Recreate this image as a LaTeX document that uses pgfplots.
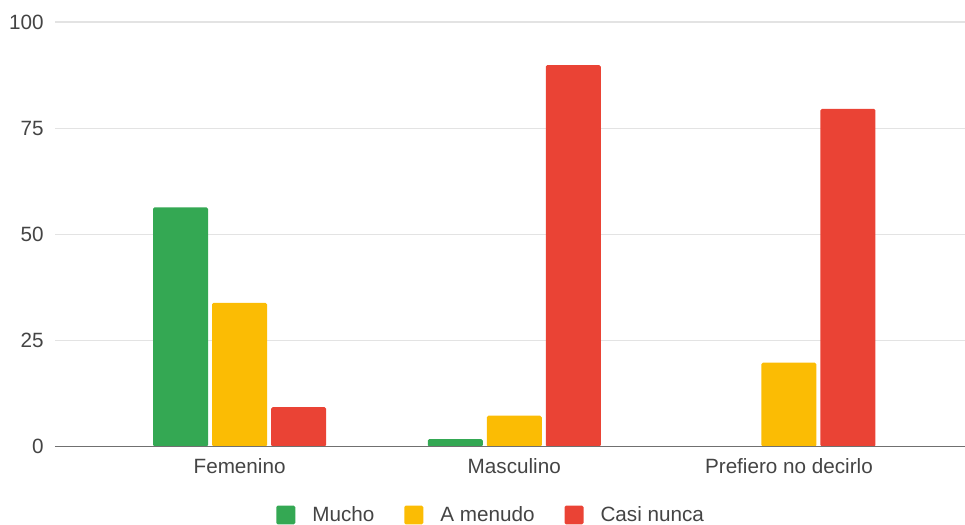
\documentclass[border=0pt]{standalone}
\usepackage{fontspec}
\setmainfont{Liberation Sans}
\usepackage{pgfplots}
\usepackage{pgfplotstable}
\pgfplotsset{compat=1.18}

\definecolor{gMucho}{HTML}{34A853}
\definecolor{gMenudo}{HTML}{FBBC04}
\definecolor{gNunca}{HTML}{EA4335}
\definecolor{gridgray}{HTML}{E3E3E3}
\definecolor{basegray}{HTML}{707070}
\definecolor{labelgray}{HTML}{444444}

% one row per group: 0 Femenino, 1 Masculino, 2 Prefiero no decirlo
\pgfplotstableread{
x  mucho  amenudo  casinunca
0  56.4   33.9     9.3
1  1.8    7.3      89.9
2  nan    19.8     79.6
}\datos

\pgfplotsset{
  squarelegend/.style={
    legend image code/.code={\fill[##1, draw=none] (0pt,-7.1pt) rectangle (14.25pt,7.1pt);}
  }
}

\begin{document}
\begin{tikzpicture}
\begin{axis}[
  name=ax,
  scale only axis,
  width=682.5pt, height=318.3pt,
  xmin=-0.672, xmax=2.641, ymin=0, ymax=100,
  axis line style={draw=none},
  ybar=3pt, bar width=41.25pt,
  xtick={0,1,2},
  xticklabels={Femenino,Masculino,Prefiero no decirlo},
  ytick={0,25,50,75,100},
  ymajorgrids,
  major grid style={gridgray, line width=1.2pt},
  major tick length=0pt,
  tick label style={font=\fontsize{15.5}{18}\selectfont, text=labelgray},
  /pgf/number format/assume math mode=true,
  yticklabel style={xshift=-5pt},
  xticklabel style={yshift=-5.3pt},
  unbounded coords=discard,
  legend columns=3,
  legend style={
    draw=none, fill=none,
    at={(0.2429,-0.161)}, anchor=west,
    inner sep=0pt,
    font=\fontsize{15.5}{18}\selectfont, text=labelgray,
    nodes={inner sep=0pt},
    /tikz/every odd column/.append style={column sep=12.75pt},
    /tikz/every even column/.append style={column sep=22.5pt},
  },
]
\addplot[fill=gMucho, draw=none, rounded corners=1.2pt, squarelegend] table[x=x, y=mucho] {\datos};
\addplot[fill=gMenudo, draw=none, rounded corners=1.2pt, squarelegend] table[x=x, y=amenudo] {\datos};
\addplot[fill=gNunca, draw=none, rounded corners=1.2pt, squarelegend] table[x=x, y=casinunca] {\datos};
\legend{Mucho, A menudo, Casi nunca}
% baseline at zero
\draw[basegray, line width=1.6pt] (rel axis cs:0,0) -- (rel axis cs:1,0);
\end{axis}
\pgfresetboundingbox
\path[use as bounding box] ([xshift=-41.25pt,yshift=-58.7pt]ax.south west) rectangle ([yshift=16.7pt]ax.north east);
\end{tikzpicture}
\end{document}
